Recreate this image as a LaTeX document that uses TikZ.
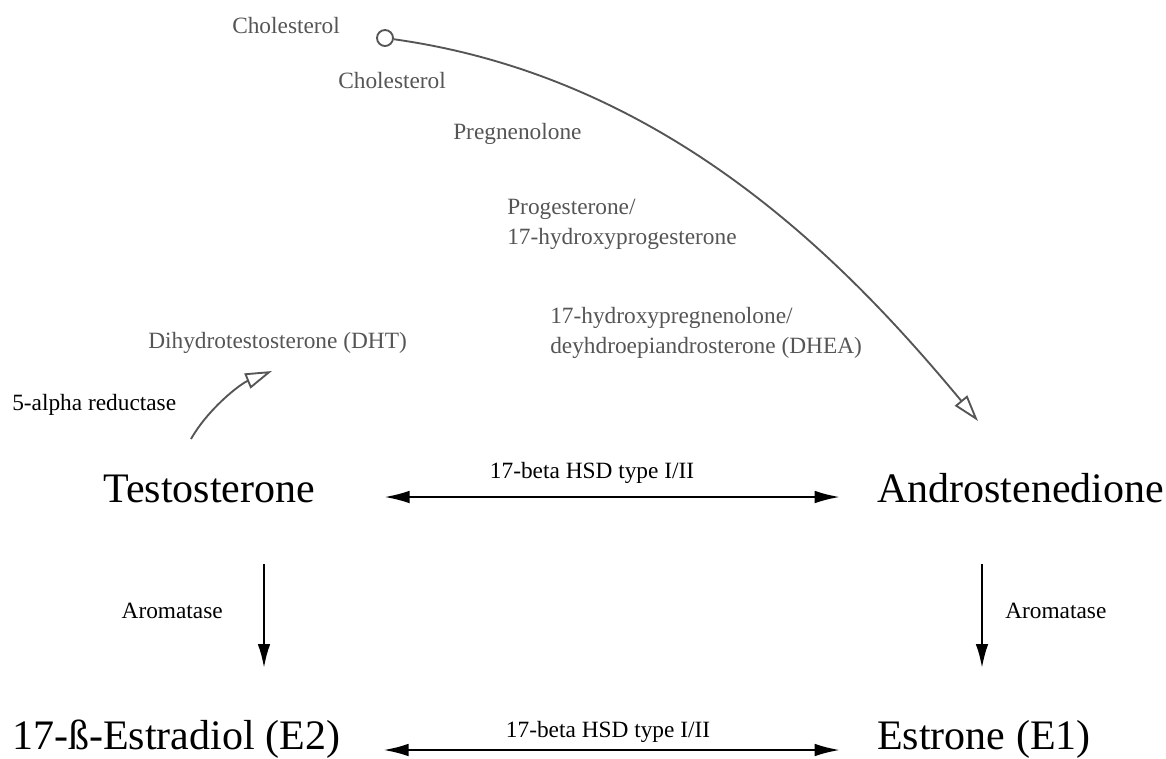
\documentclass[tikz,border=0pt]{standalone}
\usepackage{fontspec}
\setmainfont{Liberation Serif}
\usetikzlibrary{arrows.meta}

\definecolor{pathgray}{HTML}{555555}

\tikzset{
  hormone/.style={inner sep=0pt,font=\fontsize{31.5}{37}\selectfont},
  enzyme/.style={inner sep=0pt,font=\fontsize{17.5}{22}\selectfont},
  precursor/.style={enzyme,text=pathgray,align=left},
  conv/.style={line width=1.8pt,-{Latex[length=18pt,width=9.5pt]}},
  hsd/.style={line width=1.8pt,{Latex[length=19pt,width=9.5pt]}-{Latex[length=19pt,width=9.5pt]}},
  synth/.style={pathgray,line width=1.4pt,-{Triangle[open,length=20pt,width=12pt]}}
}

\begin{document}
\begin{tikzpicture}[x=0.75pt,y=-0.75pt]

  \useasboundingbox (0,0) rectangle (1166,758);

  % hormones
  \node[hormone,anchor=base west] (testo) at (103,502) {Testosterone};
  \node[hormone,anchor=base west] (andro) at (877,502) {Androstenedione};
  \node[hormone,anchor=base west] (estradiol) at (12,749) {17-ß-Estradiol (E2)};
  \node[hormone,anchor=base west] (estrone) at (877,749) {Estrone (E1)};

  % precursors
  \node[precursor,anchor=base west] (chollab) at (232,33) {Cholesterol};
  \node[circle,draw=pathgray,line width=1.4pt,minimum size=12pt,inner sep=0pt]
    (chol) at (385,38) {};
  \node[precursor,anchor=base west] (cholest) at (338,88) {Cholesterol};
  \node[precursor,anchor=base west] (preg) at (453,139) {Pregnenolone};
  \node[precursor,anchor=base west] (prog) at (507,244)
    {Progesterone/\\17-hydroxyprogesterone};
  \node[precursor,anchor=base west] (dhea) at (550,353)
    {17-hydroxypregnenolone/\\deyhdroepiandrosterone (DHEA)};
  \node[precursor,anchor=base west] (dht) at (148,348) {Dihydrotestosterone (DHT)};

  % enzymes
  \node[enzyme,anchor=base west] (reductase) at (12,410) {5-alpha reductase};
  \node[enzyme,anchor=base] (hsdtop) at (592,478) {17-beta HSD type I/II};
  \node[enzyme,anchor=base] (hsdbot) at (608,737) {17-beta HSD type I/II};
  \node[enzyme,anchor=base east] (aroleft) at (223,618) {Aromatase};
  \node[enzyme,anchor=base west] (aroright) at (1005,618) {Aromatase};

  % free ends
  \coordinate (synthend) at (978,421);
  \coordinate (redstart) at (191,439);
  \coordinate (redend) at (272,371);
  \coordinate (aroLtop) at (264,564);
  \coordinate (aroLbot) at (264,668);
  \coordinate (aroRtop) at (982,564);
  \coordinate (aroRbot) at (982,668);

  % synthesis
  \draw[synth] (chol) .. controls (671,78) and (850,267) .. (synthend);
  \draw[synth] (redstart) .. controls (208,409) and (240,384) .. (redend);

  % conversions
  \draw[hsd,shorten <=51.75pt,shorten >=27.75pt]
    ([yshift=3.75pt]testo.base east) -- ([yshift=3.75pt]andro.base west);
  \draw[hsd,shorten <=32.25pt,shorten >=27.75pt]
    ([yshift=-0.75pt]estradiol.base east) -- ([yshift=-0.75pt]estrone.base west);
  \draw[conv] (aroLtop) -- (aroLbot);
  \draw[conv] (aroRtop) -- (aroRbot);

\end{tikzpicture}
\end{document}
